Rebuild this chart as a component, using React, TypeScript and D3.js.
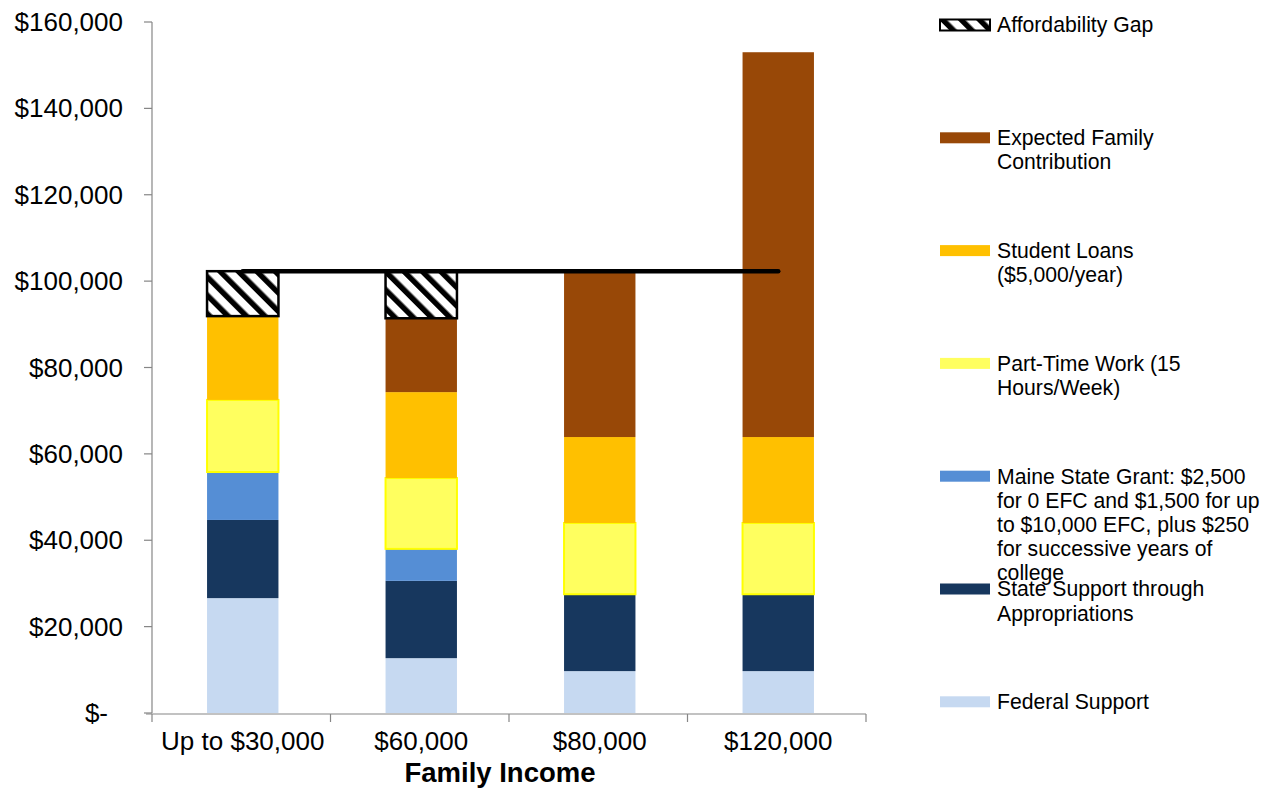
import React from 'react';
import * as d3 from 'd3';

const categories = ['Up to $30,000', '$60,000', '$80,000', '$120,000'];

// stacked from the bottom up
const federalSupport = [26600, 12700, 9700, 9700];
const stateAppropriations = [18100, 17900, 17800, 17800];
const maineStateGrant = [11100, 7400, 0, 0];
const partTimeWork = [16700, 16400, 16500, 16500];
const studentLoans = [19400, 19900, 19900, 19900];
const expectedFamily = [0, 17100, 38400, 89100];
const affordabilityGap = [10400, 10900, 0, 0];
const costOfAttendance = [102300, 102300, 102300, 102300];

const yTicks = [0, 20000, 40000, 60000, 80000, 100000, 120000, 140000, 160000];

const seriesKeys = ['federal', 'state', 'grant', 'work', 'loans', 'efc', 'gap'];
const seriesValues: Record<string, number[]> = {
  federal: federalSupport,
  state: stateAppropriations,
  grant: maineStateGrant,
  work: partTimeWork,
  loans: studentLoans,
  efc: expectedFamily,
  gap: affordabilityGap,
};

const fills: Record<string, string> = {
  federal: '#c6d9f1',
  state: '#17375e',
  grant: '#558ed5',
  work: '#ffff5f',
  loans: '#ffc000',
  efc: '#984807',
  gap: 'url(#hatch)',
};

const legendItems = [
  { key: 'gap', lines: ['Affordability Gap'] },
  { key: 'efc', lines: ['Expected Family', 'Contribution'] },
  { key: 'loans', lines: ['Student Loans', '($5,000/year)'] },
  { key: 'work', lines: ['Part-Time Work (15', 'Hours/Week)'] },
  { key: 'grant', lines: ['Maine State Grant: $2,500', 'for 0 EFC and $1,500 for up', 'to $10,000 EFC, plus $250', 'for successive years of', 'college'] },
  { key: 'state', lines: ['State Support through', 'Appropriations'] },
  { key: 'federal', lines: ['Federal Support'] },
];

const font = '"Liberation Sans", Arial, sans-serif';

export default function App() {
  const width = 1277;
  const height = 788;

  const x = d3.scaleBand<string>()
    .domain(categories)
    .range([153.5, 867.5])
    .paddingInner(0.6)
    .paddingOuter(0.3);

  const y = d3.scaleLinear().domain([0, 160000]).range([713, 22]);

  const rows = categories.map((c, i) => {
    const r: Record<string, any> = { cat: c };
    seriesKeys.forEach(k => { r[k] = seriesValues[k][i]; });
    return r;
  });
  const stacked = d3.stack<any>().keys(seriesKeys)(rows);

  const line = d3.line<number>()
    .x((d, i) => (x(categories[i]) ?? 0) + x.bandwidth() / 2)
    .y(d => y(d));

  const step = x.step();
  const bounds = d3.range(categories.length + 1).map(i => 152 + i * step);

  return (
    <div style={{ position: 'absolute', left: 0, top: 0 }}>
      <svg width={width} height={height} style={{ display: 'block', background: '#fff' }} fontFamily={font}>
        <defs>
          <pattern id="hatch" patternUnits="userSpaceOnUse" width={13} height={13} patternTransform="rotate(-45)">
            <rect width={13} height={13} fill="#fff" />
            <rect x={0} y={0} width={5.5} height={13} fill="#000" />
          </pattern>
        </defs>

        {/* y axis */}
        <line x1={152} x2={152} y1={y(160000)} y2={y(0)} stroke="#868686" strokeWidth={1.2} />
        {yTicks.map(t => (
          <g key={t}>
            <line x1={144} x2={152} y1={y(t)} y2={y(t)} stroke="#868686" strokeWidth={1.2} />
            <text
              x={t === 0 ? 108 : 123}
              y={y(t)}
              dy="0.35em"
              textAnchor="end"
              fontSize={26}
              fill="#000"
            >
              {t === 0 ? '$-' : '$' + d3.format(',')(t)}
            </text>
          </g>
        ))}

        {/* bars */}
        {stacked.map(s => (
          <g key={s.key}>
            {s.map((d, i) => {
              const h = y(d[0]) - y(d[1]);
              if (h <= 0) return null;
              const bx = x(categories[i]) ?? 0;
              const stroke = s.key === 'gap' ? '#000' : s.key === 'work' ? '#ffff00' : 'none';
              const sw = s.key === 'gap' ? 2.5 : s.key === 'work' ? 2 : 0;
              return (
                <rect
                  key={i}
                  x={bx}
                  y={y(d[1])}
                  width={x.bandwidth()}
                  height={h}
                  fill={fills[s.key]}
                  stroke={stroke}
                  strokeWidth={sw}
                />
              );
            })}
          </g>
        ))}

        {/* cost of attendance line */}
        <path d={line(costOfAttendance) ?? ''} fill="none" stroke="#000" strokeWidth={4.5} strokeLinecap="round" />

        {/* x axis */}
        <line x1={146} x2={866} y1={y(0) + 1} y2={y(0) + 1} stroke="#868686" strokeWidth={1.2} />
        {bounds.map((b, i) => (
          <line key={i} x1={b} x2={b} y1={y(0) + 1} y2={y(0) + 9} stroke="#868686" strokeWidth={1.2} />
        ))}
        {categories.map(c => (
          <text
            key={c}
            x={(x(c) ?? 0) + x.bandwidth() / 2}
            y={750}
            textAnchor="middle"
            fontSize={26}
            fill="#000"
          >
            {c}
          </text>
        ))}
        <text x={500} y={782} textAnchor="middle" fontSize={27.5} fontWeight="bold" fill="#000">
          Family Income
        </text>

        {/* legend */}
        {legendItems.map((item, i) => {
          const cy = 25 + i * 112.8;
          return (
            <g key={item.key}>
              <rect
                x={940}
                y={cy - 5.5}
                width={50}
                height={11}
                fill={fills[item.key]}
                stroke={item.key === 'gap' ? '#000' : 'none'}
                strokeWidth={2}
              />
              {item.lines.map((ln, j) => (
                <text key={j} x={997} y={cy + j * 24.2} dy="0.35em" fontSize={21.2} fill="#000">
                  {ln}
                </text>
              ))}
            </g>
          );
        })}
      </svg>
    </div>
  );
}
